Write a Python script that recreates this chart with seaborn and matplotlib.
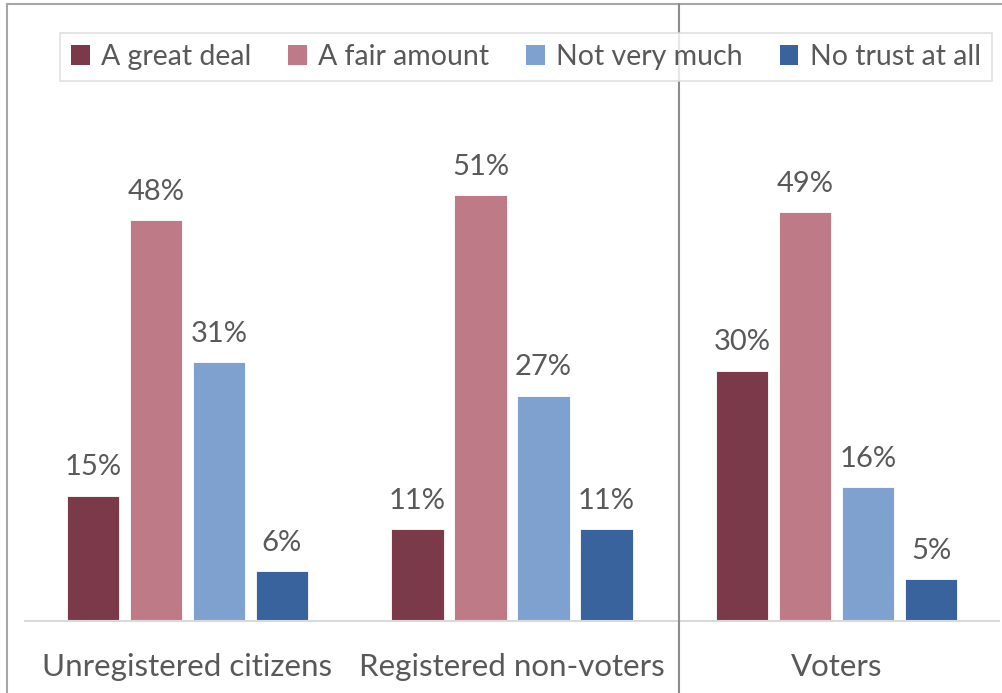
import matplotlib
matplotlib.use("Agg")
import matplotlib.pyplot as plt
from matplotlib.lines import Line2D
import seaborn as sns
import pandas as pd

categories = ["Unregistered citizens", "Registered non-voters", "Voters"]
series_names = ["A great deal", "A fair amount", "Not very much", "No trust at all"]
great_deal = [15, 11, 30]
fair_amount = [48, 51, 49]
not_very_much = [31, 27, 16]
no_trust = [6, 11, 5]

colors = ["#7B3A4A", "#BF7A87", "#7FA1D0", "#38639C"]
text_color = "#595959"

sns.set_theme(style="white")
plt.rcParams["font.family"] = ["Lato", "DejaVu Sans"]

rows = []
for name, vals in zip(series_names, [great_deal, fair_amount, not_very_much, no_trust]):
    for cat, v in zip(categories, vals):
        rows.append({"group": cat, "trust": name, "pct": v})
df = pd.DataFrame(rows)

W, H = 1002, 693
fig = plt.figure(figsize=(W / 100, H / 100), dpi=100)
ax = fig.add_axes([25 / W, (H - 621) / H, 974 / W, 501 / H])

sns.barplot(data=df, x="group", y="pct", hue="trust", order=categories,
            hue_order=series_names, palette=colors, width=0.777, gap=0.17,
            saturation=1, legend=False, ax=ax, edgecolor="white", linewidth=0.6)

for cont in ax.containers:
    ax.bar_label(cont, fmt="%g%%", padding=11, fontsize=21, color=text_color)

ax.set_xlim(-0.5, 2.5)
ax.set_ylim(0, 60)
ax.set_yticks([])
ax.set_xlabel("")
ax.set_ylabel("")
for s in ["left", "right", "top"]:
    ax.spines[s].set_visible(False)
ax.spines["bottom"].set_color("#D9D9D9")
ax.spines["bottom"].set_linewidth(1.5)
ax.tick_params(axis="x", length=0, pad=23, labelsize=22.5, labelcolor=text_color)

# frame around the chart area (left and top edges)
fig.add_artist(Line2D([7 / W, 7 / W], [0, 1 - 4 / H], color="#A6A6A6", lw=1.5,
                      transform=fig.transFigure))
fig.add_artist(Line2D([7 / W, 1], [1 - 4 / H, 1 - 4 / H], color="#A6A6A6", lw=1.5,
                      transform=fig.transFigure))
# divider separating voters from non-voters
fig.add_artist(Line2D([679 / W, 679 / W], [0, 1 - 4 / H], color="#8C8C8C", lw=1.5,
                      transform=fig.transFigure))

handles = [plt.Rectangle((0, 0), 1, 1, facecolor=c, edgecolor="none") for c in colors]
leg = fig.legend(handles, series_names, loc="center", ncol=4,
                 bbox_to_anchor=(526 / W, 1 - 57 / H), frameon=True, fancybox=False,
                 edgecolor="#D9D9D9", fontsize=20.5,
                 handlelength=0.65, handleheight=0.65,
                 handletextpad=0.4, columnspacing=1.3, borderpad=0.4,
                 labelcolor=text_color)
leg.get_frame().set_linewidth(1.2)

fig.savefig("out.png", dpi=100, facecolor="white")
